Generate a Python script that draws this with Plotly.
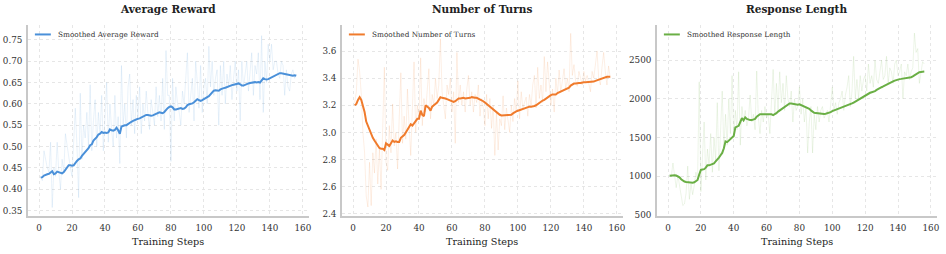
import plotly.graph_objects as go

steps = list(range(1, 157))

reward_raw = [
    0.43, 0.42, 0.49, 0.47, 0.45, 0.44, 0.51, 0.357, 0.45, 0.43,
    0.51, 0.44, 0.40, 0.47, 0.44, 0.53, 0.50, 0.47, 0.45, 0.43,
    0.52, 0.59, 0.50, 0.38, 0.625, 0.47, 0.55, 0.52, 0.58, 0.50,
    0.645, 0.49, 0.56, 0.61, 0.50, 0.58, 0.53, 0.62, 0.49, 0.57,
    0.65, 0.51, 0.60, 0.54, 0.50, 0.62, 0.52, 0.57, 0.46, 0.69,
    0.55, 0.60, 0.52, 0.64, 0.67, 0.55, 0.61, 0.53, 0.62, 0.57,
    0.64, 0.53, 0.60, 0.56, 0.63, 0.58, 0.54, 0.61, 0.58, 0.55,
    0.64, 0.57, 0.62, 0.56, 0.66, 0.54, 0.725, 0.62, 0.62, 0.465,
    0.66, 0.56, 0.64, 0.60, 0.58, 0.55, 0.63, 0.60, 0.66, 0.72,
    0.58, 0.62, 0.66, 0.56, 0.70, 0.65, 0.59, 0.69, 0.58, 0.64,
    0.66, 0.60, 0.735, 0.64, 0.70, 0.62, 0.66, 0.68, 0.55, 0.69,
    0.62, 0.70, 0.60, 0.67, 0.64, 0.69, 0.61, 0.66, 0.70, 0.63,
    0.68, 0.56, 0.70, 0.64, 0.67, 0.70, 0.63, 0.68, 0.72, 0.62,
    0.69, 0.67, 0.72, 0.61, 0.76, 0.58, 0.70, 0.65, 0.74, 0.70,
    0.74, 0.68, 0.70, 0.70, 0.67, 0.66, 0.70, 0.69, 0.62, 0.68,
    0.64, 0.63, 0.67, 0.68, 0.66, 0.67,
]
reward_smooth = [
    .427, .428, .432, .434, .435, .436, .440, .442, .435, .437,
    .441, .440, .438, .437, .440, .446, .452, .456, .456, .455,
    .456, .462, .466, .470, .472, .478, .482, .486, .490, .496,
    .503, .505, .514, .517, .522, .528, .530, .534, .532, .533,
    .532, .533, .540, .538, .537, .539, .544, .538, .530, .547,
    .549, .550, .550, .553, .557, .558, .560, .562, .563, .565,
    .566, .568, .571, .572, .574, .574, .573, .572, .573, .575,
    .577, .579, .580, .579, .578, .581, .586, .590, .593, .594,
    .592, .587, .587, .588, .589, .590, .588, .589, .592, .597,
    .599, .600, .601, .604, .607, .611, .609, .607, .609, .612,
    .615, .616, .618, .622, .628, .631, .632, .632, .631, .634,
    .636, .637, .638, .640, .641, .643, .644, .645, .646, .647,
    .648, .646, .643, .643, .645, .647, .648, .649, .650, .651,
    .651, .650, .651, .650, .655, .660, .658, .657, .658, .660,
    .662, .664, .667, .669, .671, .672, .672, .671, .670, .669,
    .668, .668, .667, .666, .667, .666,
]

turns_raw = [
    3.22, 3.30, 3.54, 3.45, 3.28, 3.00, 2.85, 2.53, 2.45, 2.78,
    2.46, 2.85, 2.70, 2.95, 2.62, 2.88, 2.58, 2.95, 3.48, 2.78,
    2.72, 3.05, 2.85, 3.21, 2.90, 3.00, 2.73, 3.10, 3.44, 2.92,
    3.12, 2.95, 3.32, 3.05, 2.83, 3.18, 3.52, 3.00, 3.20, 3.10,
    3.55, 3.05, 3.25, 3.15, 3.30, 3.47, 3.10, 3.28, 3.20, 3.40,
    3.25, 3.35, 3.69, 3.30, 3.20, 3.10, 3.35, 3.28, 3.40, 3.15,
    3.30, 2.92, 3.59, 3.22, 3.35, 3.20, 3.30, 3.15, 3.32, 3.42,
    3.20, 3.30, 3.15, 3.28, 3.22, 3.35, 3.12, 3.25, 3.18, 3.05,
    3.28, 3.10, 3.25, 3.03, 3.20, 2.83, 3.15, 2.87, 3.10, 3.05,
    3.27, 3.02, 3.18, 3.10, 3.00, 3.20, 3.08, 3.25, 3.15, 3.38,
    3.10, 3.30, 3.18, 3.22, 3.26, 3.12, 3.28, 3.20, 3.35, 3.42,
    3.18, 3.48, 3.25, 3.35, 3.22, 3.56, 3.30, 3.52, 3.38, 3.20,
    3.32, 3.15, 3.40, 3.28, 3.46, 3.30, 3.38, 3.47, 3.32, 3.40,
    3.30, 3.73, 3.42, 3.50, 3.38, 3.34, 3.45, 3.40, 3.35, 3.45,
    3.38, 3.42, 3.35, 3.30, 3.45, 3.40, 3.50, 3.60, 3.40, 3.35,
    3.48, 3.59, 3.45, 3.35, 3.49, 3.40,
]
turns_smooth = [
    3.20, 3.21, 3.24, 3.26, 3.24, 3.20, 3.15, 3.08, 3.05, 3.01,
    2.98, 2.96, 2.94, 2.92, 2.90, 2.885, 2.88, 2.88, 2.87, 2.92,
    2.91, 2.90, 2.92, 2.94, 2.93, 2.935, 2.93, 2.93, 2.96, 2.97,
    2.98, 3.00, 3.02, 3.04, 3.06, 3.05, 3.07, 3.09, 3.10, 3.10,
    3.16, 3.13, 3.12, 3.20, 3.19, 3.18, 3.16, 3.19, 3.20, 3.21,
    3.22, 3.24, 3.26, 3.255, 3.255, 3.25, 3.245, 3.24, 3.23, 3.23,
    3.225, 3.23, 3.24, 3.25, 3.25, 3.255, 3.255, 3.25, 3.25, 3.25,
    3.255, 3.26, 3.255, 3.255, 3.255, 3.25, 3.245, 3.24, 3.23, 3.22,
    3.21, 3.20, 3.19, 3.18, 3.17, 3.16, 3.145, 3.135, 3.13, 3.125,
    3.125, 3.125, 3.13, 3.125, 3.125, 3.13, 3.14, 3.15, 3.155, 3.16,
    3.165, 3.165, 3.17, 3.175, 3.18, 3.185, 3.19, 3.19, 3.19, 3.195,
    3.20, 3.21, 3.22, 3.23, 3.235, 3.24, 3.25, 3.26, 3.27, 3.275,
    3.28, 3.28, 3.28, 3.29, 3.295, 3.30, 3.305, 3.31, 3.315, 3.32,
    3.33, 3.345, 3.355, 3.36, 3.36, 3.365, 3.365, 3.365, 3.37, 3.37,
    3.37, 3.37, 3.375, 3.375, 3.375, 3.375, 3.38, 3.385, 3.39, 3.395,
    3.40, 3.405, 3.405, 3.41, 3.41, 3.41,
]

length_raw = [
    1020, 990, 1170, 980, 850, 1010, 880, 700, 620, 640,
    780, 1130, 700, 900, 760, 880, 1050, 950, 2220, 800,
    1250, 1700, 950, 1350, 1150, 1550, 1050, 1500, 1200, 1950,
    1070, 1600, 2100, 1350, 1800, 1400, 2000, 1550, 2300, 1500,
    1850, 1600, 2350, 1400, 1900, 1700, 1850, 1650, 1750, 2050,
    1700, 1800, 1600, 2360, 1750, 1550, 1850, 1700, 1900, 1750,
    1800, 1550, 1900, 2380, 1800, 2200, 1850, 2350, 1950, 2200,
    1850, 2300, 2000, 1900, 2100, 1700, 2000, 1850, 1900, 2150,
    1800, 2000, 1700, 1900, 1300, 1700, 1900, 1300, 1800, 1600,
    1900, 1700, 1850, 1900, 1750, 1800, 1850, 1700, 1900, 2150,
    1850, 1950, 1800, 1950, 2000, 2100, 1850, 2050, 2150, 2300,
    1900, 2100, 2550, 2000, 2250, 2000, 2300, 2100, 2250, 2300,
    2100, 2450, 2200, 2300, 2150, 2500, 2250, 2200, 2350, 2500,
    2250, 2300, 2550, 2200, 2400, 2350, 2200, 2450, 2500, 2300,
    2350, 2450, 2000, 2350, 2300, 2450, 2250, 2350, 2400, 2850,
    2600, 2650, 2200, 2350, 2480, 2450,
]
length_smooth = [
    1005, 1010, 1012, 1010, 1008, 1000, 985, 960, 940, 930,
    925, 920, 918, 915, 915, 920, 930, 950, 1020, 1080,
    1085, 1090, 1110, 1140, 1140, 1145, 1150, 1165, 1190, 1210,
    1240, 1270, 1300, 1360, 1450, 1440, 1460, 1490, 1500, 1520,
    1630, 1640, 1650, 1700, 1750, 1720, 1760, 1740, 1730, 1725,
    1725, 1730, 1740, 1770, 1790, 1800, 1800, 1800, 1800, 1800,
    1800, 1795, 1800, 1790, 1800, 1815, 1835, 1850, 1865, 1880,
    1900, 1920, 1935, 1940, 1938, 1935, 1930, 1925, 1925, 1930,
    1920, 1915, 1910, 1900, 1885, 1870, 1850, 1830, 1820, 1815,
    1812, 1810, 1808, 1805, 1805, 1808, 1812, 1818, 1828, 1840,
    1848, 1855, 1862, 1870, 1878, 1885, 1893, 1900, 1910, 1920,
    1930, 1940, 1952, 1965, 1980, 1995, 2008, 2020, 2035, 2050,
    2062, 2070, 2078, 2085, 2090, 2100, 2115, 2130, 2140, 2150,
    2160, 2172, 2185, 2200, 2208, 2215, 2225, 2235, 2245, 2250,
    2255, 2258, 2260, 2262, 2268, 2272, 2275, 2280, 2290, 2305,
    2320, 2335, 2345, 2348, 2350, 2352,
]

titles = ["Average Reward", "Number of Turns", "Response Length"]
legend_names = ["Smoothed Average Reward", "Smoothed Number of Turns", "Smoothed Response Length"]
colors = ["#4a90d9", "#f07b2c", "#6aaf45"]
raw_colors = ["rgba(74,144,217,0.12)", "rgba(240,123,44,0.12)", "rgba(106,175,69,0.12)"]
y_ranges = [[0.338, 0.786], [2.387, 3.795], [490, 2960]]
y_ticks = [
    [0.35, 0.40, 0.45, 0.50, 0.55, 0.60, 0.65, 0.70, 0.75],
    [2.4, 2.6, 2.8, 3.0, 3.2, 3.4, 3.6],
    [500, 1000, 1500, 2000, 2500],
]
y_fmt = [".2f", ".1f", "d"]
x_ticks = [0, 20, 40, 60, 80, 100, 120, 140, 160]

W, H = 946, 254
left_px = [28, 343, 659]
right_px = [310, 625, 940]
domains = [[l / W, r / W] for l, r in zip(left_px, right_px)]
y_dom = [1 - 219 / H, 1 - 25 / H]

raws = [reward_raw, turns_raw, length_raw]
smooths = [reward_smooth, turns_smooth, length_smooth]

FONT = "DejaVu Serif"
GRID = "#e6e6e6"
fig = go.Figure()
layout = dict(
    width=W, height=H, margin=dict(l=0, r=0, t=0, b=0),
    paper_bgcolor="white", plot_bgcolor="white",
    font=dict(family=FONT, color="#333333"),
    showlegend=False, annotations=[], shapes=[],
)
for i in range(3):
    xa = "x" if i == 0 else f"x{i+1}"
    ya = "y" if i == 0 else f"y{i+1}"
    fig.add_trace(go.Scatter(x=steps, y=raws[i], mode="lines",
                             line=dict(color=raw_colors[i], width=1),
                             xaxis=xa, yaxis=ya, hoverinfo="skip"))
    fig.add_trace(go.Scatter(x=steps, y=smooths[i], mode="lines", name=legend_names[i],
                             line=dict(color=colors[i], width=2),
                             xaxis=xa, yaxis=ya))
    axkey = "xaxis" if i == 0 else f"xaxis{i+1}"
    aykey = "yaxis" if i == 0 else f"yaxis{i+1}"
    layout[axkey] = dict(
        domain=domains[i], anchor=ya, range=[-6.75, 163.75],
        tickvals=x_ticks, ticks="", showgrid=True, gridcolor=GRID, griddash="dot",
        gridwidth=1, zeroline=False, showline=True, linecolor="#c8c8c8", linewidth=1.5,
        tickfont=dict(size=8.8, family=FONT, color="#333333"), ticklabelstandoff=3,
    )
    layout[aykey] = dict(
        domain=y_dom, anchor=xa, range=y_ranges[i], tickvals=y_ticks[i], tickformat=y_fmt[i],
        ticks="", showgrid=True, gridcolor=GRID, griddash="dot", gridwidth=1,
        zeroline=False, showline=True, linecolor="#c8c8c8", linewidth=1.5,
        tickfont=dict(size=8.8, family=FONT, color="#333333"), ticklabelstandoff=2,
    )
    cx = (domains[i][0] + domains[i][1]) / 2
    layout["annotations"].append(dict(
        text=f"<b>{titles[i]}</b>", x=cx, y=1 - 9 / H,
        xref="paper", yref="paper", xanchor="center", yanchor="middle", showarrow=False,
        font=dict(size=10.5, family=FONT, color="#222222"),
    ))
    layout["annotations"].append(dict(
        text="Training Steps", x=cx, y=1 - 245.5 / H,
        xref="paper", yref="paper", xanchor="center", yanchor="middle", showarrow=False,
        font=dict(size=9.7, family=FONT, color="#222222"),
    ))
    lx = left_px[i]
    layout["shapes"].append(dict(
        type="line", xref="paper", yref="paper",
        x0=(lx + 7) / W, x1=(lx + 23) / W, y0=1 - 35 / H, y1=1 - 35 / H,
        line=dict(color=colors[i], width=2),
    ))
    layout["annotations"].append(dict(
        text=legend_names[i], x=(lx + 28) / W, y=1 - 35 / H,
        xref="paper", yref="paper", xanchor="left", yanchor="middle", showarrow=False,
        font=dict(size=7.3, family=FONT, color="#333333"),
    ))

fig.update_layout(**layout)
fig.write_html(
    "out.html",
    config={"displayModeBar": False},
    post_script="document.body.style.margin='0';document.body.style.padding='0';",
)
